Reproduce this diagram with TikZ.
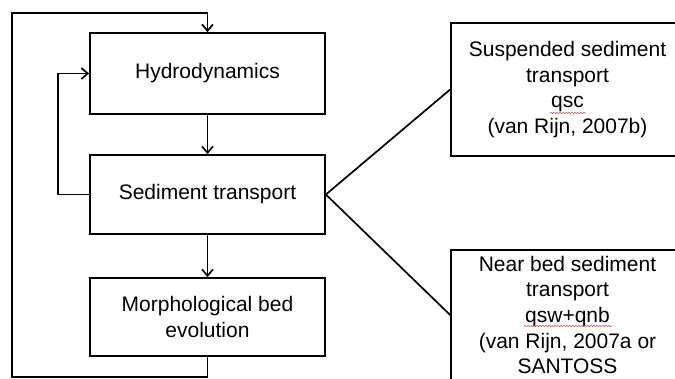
\documentclass[tikz,border=0pt]{standalone}
\usepackage{fontspec}
\setmainfont{Liberation Sans}
\usetikzlibrary{arrows.meta}
\usetikzlibrary{calc}
\usetikzlibrary{decorations.pathmorphing}
\tikzset{>={Straight Barb[length=6.5pt,width=11pt]}}
\definecolor{spellred}{RGB}{225,70,70}
\tikzset{
  block/.style={draw, line width=1.7pt, minimum width=235pt, inner ysep=2pt,
    align=center, font=\fontsize{21}{25.7}\selectfont},
  flow/.style={->, line width=1.7pt},
  spell/.style={spellred, line width=0.6pt, decorate,
    decoration={snake, amplitude=0.6pt, segment length=3pt}}
}

\begin{document}
\begin{tikzpicture}[x=1pt,y=-1pt]
            \useasboundingbox (0,0) rectangle (675,378);
            \clip (0,0) rectangle (675,378);
            \node[block, minimum height=81pt] (hydro) at (207.5,73.5) {Hydrodynamics};
            \node[block, minimum height=79pt] (sed) at (207.5,194.5) {Sediment transport};
            \node[block, minimum height=78pt] (morph) at (207.5,317) {Morphological bed\\evolution};
            \node[block, minimum width=233pt, minimum height=133pt] (susp) at (567.5,89.5)
                {Suspended sediment\\transport\\qsc\\(van Rijn, 2007b)};
            \node[block, minimum width=233pt, minimum height=130pt] (nearbed) at (567.5,315)
                {Near bed sediment\\transport\\qsw+qnb\\(van Rijn, 2007a or\\SANTOSS};
            \coordinate (outerbot) at (12,377);
            \coordinate (outertop) at (12,13);
            \coordinate (innerx) at (58,0);
            \draw[flow] (hydro) -- (sed);
            \draw[flow] (sed) -- (morph);
            \draw[flow] (morph.south) |- (outerbot) -- (outertop) -| (hydro.north);
            \draw[flow] (sed.west) -| (innerx |- hydro.west) -- (hydro.west);
            \draw[line width=1.7pt] (sed.east) -- (susp.west);
            \draw[line width=1.7pt] (sed.east) -- (nearbed.west);
            \draw[spell] (550,113) -- (586,113);
            \draw[spell] (524,326) -- (612,326);
        \end{tikzpicture}
\end{document}
